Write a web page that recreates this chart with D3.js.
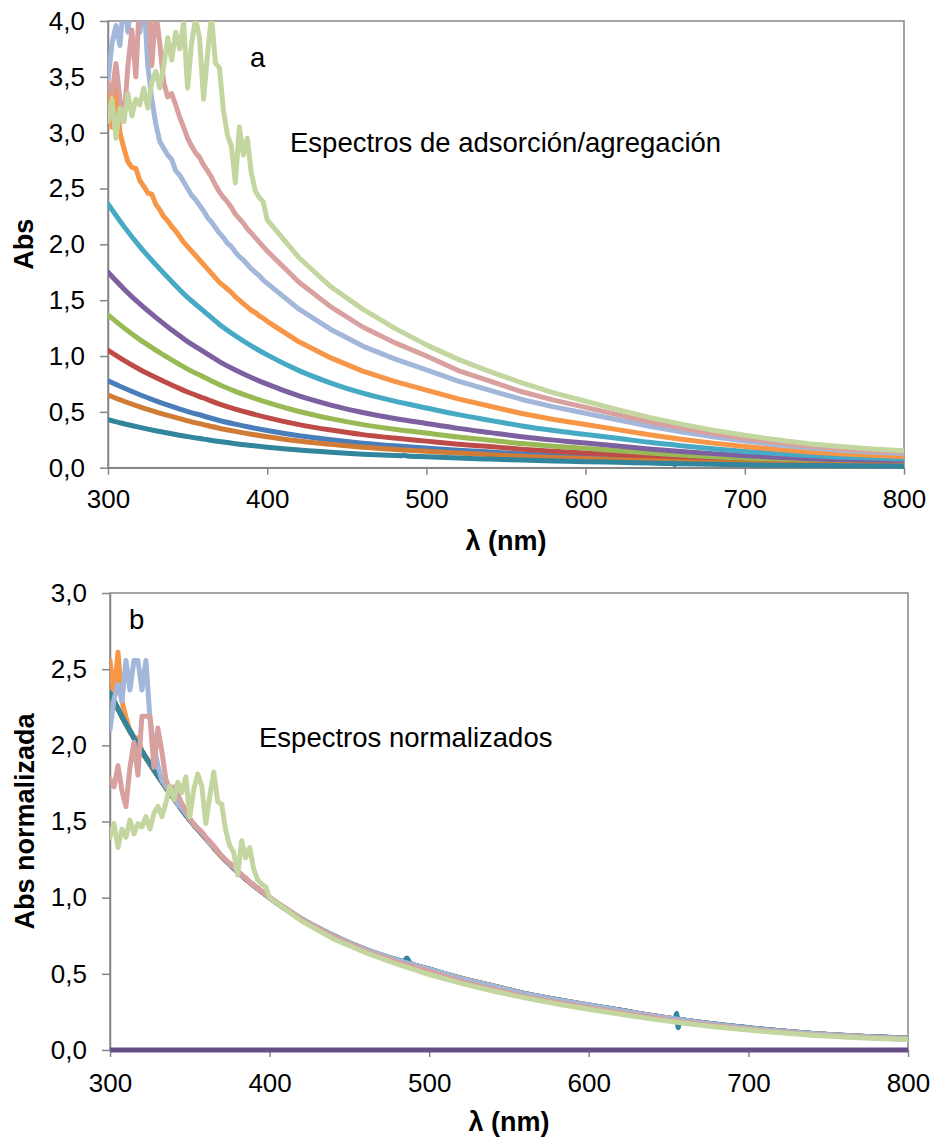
<!DOCTYPE html>
<html>
<head>
<meta charset="utf-8">
<script src="https://cdn.jsdelivr.net/npm/d3@7/dist/d3.min.js"></script>
<style>
  body { margin: 0; background: #fff; }
  svg text { font-family: "Liberation Sans", Arial, sans-serif; fill: #000; }
</style>
</head>
<body>
<svg id="chart" width="931" height="1139"></svg>
<script>
// wavelength grids (nm)
const wlCoarse = [300, 310, 320, 330, 340, 350, 360, 370, 380, 390, 400,
  420, 440, 460, 480, 500, 520, 540, 560, 580, 600, 620, 640, 660, 680, 700, 720, 740, 760, 780, 800]
const wlFine = [300, 302.5, 305, 307.5, 310, 312.5, 315, 317.5, 320, 322.5, 325, 327.5, 330, 332.5, 335, 337.5,
  340, 342.5, 345, 347.5, 350, 352.5, 355, 357.5, 360, 362.5, 365, 367.5, 370, 372.5, 375, 377.5,
  380, 382.5, 385, 387.5, 390, 392.5, 395, 397.5, 400,
  420, 440, 460, 480, 500, 520, 540, 560, 580, 600, 620, 640, 660, 680, 700, 720, 740, 760, 780, 800]
// the weakest spectrum shows the lamp lines at 486 and 656 nm
const wlTeal = [300, 310, 320, 330, 340, 350, 360, 370, 380, 390, 400,
  420, 440, 460, 480, 484, 486, 488, 500, 520, 540, 560, 580, 600, 620, 640,
  654, 655, 656, 657, 660, 680, 700, 720, 740, 760, 780, 800]

// absorbance
const absBlue = [0.779, 0.713, 0.653, 0.599, 0.549, 0.503, 0.463, 0.423, 0.390, 0.360, 0.333,
  0.286, 0.250, 0.220, 0.196, 0.176, 0.157, 0.140, 0.123, 0.110, 0.098, 0.087, 0.075, 0.065, 0.056, 0.048, 0.042, 0.036, 0.032, 0.028, 0.026]
const absRed = [1.051, 0.961, 0.880, 0.808, 0.741, 0.678, 0.624, 0.570, 0.525, 0.485, 0.449,
  0.386, 0.337, 0.296, 0.265, 0.238, 0.211, 0.189, 0.166, 0.148, 0.132, 0.117, 0.101, 0.088, 0.075, 0.065, 0.056, 0.048, 0.043, 0.038, 0.035]
const absGreen = [1.369, 1.252, 1.147, 1.053, 0.965, 0.883, 0.813, 0.743, 0.684, 0.632, 0.585,
  0.503, 0.439, 0.386, 0.345, 0.310, 0.275, 0.246, 0.216, 0.193, 0.173, 0.152, 0.132, 0.114, 0.098, 0.085, 0.073, 0.063, 0.056, 0.050, 0.045]
const absPurple = [1.750, 1.601, 1.466, 1.346, 1.234, 1.129, 1.040, 0.950, 0.875, 0.808, 0.748,
  0.643, 0.561, 0.494, 0.441, 0.396, 0.352, 0.314, 0.277, 0.247, 0.221, 0.194, 0.168, 0.146, 0.126, 0.108, 0.094, 0.081, 0.071, 0.064, 0.058]
const absAqua = [2.363, 2.161, 1.980, 1.818, 1.667, 1.525, 1.404, 1.283, 1.182, 1.091, 1.010,
  0.869, 0.758, 0.667, 0.596, 0.535, 0.475, 0.424, 0.374, 0.333, 0.298, 0.263, 0.227, 0.197, 0.170, 0.146, 0.126, 0.109, 0.096, 0.086, 0.078]
const absBrown = [0.651, 0.595, 0.545, 0.500, 0.459, 0.420, 0.386, 0.353, 0.325, 0.300, 0.278,
  0.239, 0.209, 0.183, 0.164, 0.147, 0.131, 0.117, 0.103, 0.092, 0.082, 0.072, 0.063, 0.054, 0.047, 0.040, 0.035, 0.030, 0.026, 0.024, 0.021]
const absTeal = [0.431, 0.394, 0.361, 0.331, 0.304, 0.278, 0.256, 0.234, 0.215, 0.199, 0.184,
  0.158, 0.138, 0.121, 0.109, 0.107, 0.111, 0.105, 0.098, 0.086, 0.077, 0.068, 0.061, 0.054, 0.048, 0.041,
  0.037, 0.044, 0.027, 0.037, 0.036, 0.031, 0.027, 0.023, 0.020, 0.017, 0.016, 0.014]

// noisy ones, on the fine grid
const absOrange = [3.35, 3.05, 3.42, 3.00, 2.86, 2.74, 2.69, 2.68, 2.57, 2.52, 2.46, 2.45, 2.36, 2.31, 2.25, 2.21,
  2.16, 2.12, 2.07, 2.02, 1.98, 1.94, 1.90, 1.86, 1.82, 1.78, 1.74, 1.70, 1.66, 1.63, 1.60, 1.57,
  1.53, 1.50, 1.47, 1.44, 1.41, 1.39, 1.36, 1.34, 1.31,
  1.127, 0.983, 0.865, 0.773, 0.694, 0.616, 0.550, 0.485, 0.432, 0.386, 0.341, 0.295, 0.255, 0.220, 0.190, 0.164, 0.141, 0.124, 0.111, 0.101]
const absLightBlue = [3.47, 3.80, 3.96, 3.78, 4.22, 3.90, 4.22, 4.22, 3.90, 4.22, 3.60, 3.30, 3.08, 2.92, 2.86, 2.80,
  2.76, 2.66, 2.62, 2.56, 2.50, 2.44, 2.40, 2.35, 2.30, 2.24, 2.20, 2.15, 2.10, 2.06, 2.01, 1.98,
  1.93, 1.89, 1.86, 1.82, 1.78, 1.75, 1.72, 1.68, 1.65,
  1.419, 1.238, 1.089, 0.974, 0.875, 0.776, 0.693, 0.611, 0.545, 0.487, 0.429, 0.371, 0.322, 0.277, 0.239, 0.206, 0.178, 0.157, 0.140, 0.127]
const absPink = [3.45, 3.35, 3.62, 3.30, 3.10, 3.60, 3.92, 3.50, 4.25, 4.25, 4.25, 3.60, 4.10, 3.80, 3.45, 3.32,
  3.35, 3.25, 3.14, 3.05, 2.95, 2.88, 2.82, 2.78, 2.71, 2.66, 2.60, 2.53, 2.47, 2.42, 2.38, 2.33,
  2.27, 2.23, 2.19, 2.14, 2.10, 2.06, 2.02, 1.98, 1.94,
  1.66, 1.44, 1.26, 1.12, 1.00, 0.87, 0.775, 0.68, 0.605, 0.54, 0.475, 0.41, 0.355, 0.305, 0.263, 0.226, 0.195, 0.171, 0.153, 0.138]
const absLightGreen = [3.10, 3.30, 2.95, 3.22, 3.10, 3.35, 3.15, 3.30, 3.25, 3.40, 3.22, 3.45, 3.55, 3.40, 3.60, 3.85,
  3.65, 3.90, 3.75, 3.98, 3.40, 3.80, 4.02, 3.85, 3.30, 3.70, 4.05, 3.62, 3.58, 3.20, 2.98, 2.88,
  2.55, 3.05, 2.80, 2.95, 2.64, 2.48, 2.42, 2.38, 2.22,
  1.88, 1.62, 1.42, 1.25, 1.10, 0.97, 0.86, 0.76, 0.67, 0.595, 0.52, 0.45, 0.39, 0.335, 0.29, 0.25, 0.215, 0.19, 0.168, 0.152]

// blank that normalises to zero in panel b
const wlBlank = [300, 800]
const normBlank = [0, 0]

const xTicks = [300, 400, 500, 600, 700, 800]
const yTicksTop = [0, 0.5, 1, 1.5, 2, 2.5, 3, 3.5, 4]
const yTicksBottom = [0, 0.5, 1, 1.5, 2, 2.5, 3]

const series = [
  { wl: wlCoarse, values: absBlue, color: '#4a7ebb' },
  { wl: wlCoarse, values: absRed, color: '#be4b48' },
  { wl: wlCoarse, values: absGreen, color: '#98b954' },
  { wl: wlCoarse, values: absPurple, color: '#7d60a0' },
  { wl: wlCoarse, values: absAqua, color: '#46aac5' },
  { wl: wlFine, values: absOrange, color: '#f79646' },
  { wl: wlCoarse, values: absBrown, color: '#d07b36' },
  { wl: wlTeal, values: absTeal, color: '#31859c' },
  { wl: wlFine, values: absLightBlue, color: '#a2b7d9' },
  { wl: wlFine, values: absPink, color: '#d8a09e' },
  { wl: wlFine, values: absLightGreen, color: '#c3d69f' }
]

// panel b: every spectrum divided by its value at 400 nm
const seriesNorm = series.map(s => {
  const ref = s.values[s.wl.indexOf(400)]
  return { wl: s.wl, values: s.values.map(v => v / ref), color: s.color }
})
seriesNorm.push({ wl: wlBlank, values: normBlank, color: '#664d86' })

const svg = d3.select('#chart')
const commaFmt = d => d3.format('.1f')(d).replace('.', ',')
const axisGrey = '#868686'

function drawPanel (cfg) {
  const g = svg.append('g')
  const x = d3.scaleLinear().domain([300, 800]).range([cfg.left, cfg.right])
  const y = d3.scaleLinear().domain([0, cfg.yMax]).range([cfg.bottom, cfg.top])

  // plot area border
  g.append('rect')
    .attr('x', cfg.left).attr('y', cfg.top)
    .attr('width', cfg.right - cfg.left).attr('height', cfg.bottom - cfg.top)
    .style('fill', 'none').style('stroke', axisGrey).style('stroke-width', 1.5)

  const xAxis = g.append('g')
    .attr('transform', 'translate(0,' + cfg.bottom + ')')
    .call(d3.axisBottom(x).tickValues(xTicks).tickSize(7).tickSizeOuter(0)
      .tickPadding(cfg.xPad).tickFormat(d3.format('d')))
  const yAxis = g.append('g')
    .attr('transform', 'translate(' + cfg.left + ',0)')
    .call(d3.axisLeft(y).tickValues(cfg.yTicks).tickSize(8).tickSizeOuter(0)
      .tickPadding(15).tickFormat(commaFmt))

  ;[xAxis, yAxis].forEach(a => {
    a.select('.domain').style('stroke', axisGrey).style('stroke-width', 1.5)
    a.selectAll('.tick line').style('stroke', axisGrey).style('stroke-width', 1.5)
    a.selectAll('.tick text').style('font-size', '26px').style('fill', '#000')
      .style('font-family', '"Liberation Sans", Arial, sans-serif')
  })

  const clipId = 'clip-' + cfg.id
  svg.append('clipPath').attr('id', clipId)
    .append('rect')
    .attr('x', cfg.left).attr('y', cfg.top)
    .attr('width', cfg.right - cfg.left).attr('height', cfg.bottom - cfg.top + 3)

  const lines = g.append('g').attr('clip-path', 'url(#' + clipId + ')')
  cfg.series.forEach(s => {
    // noisy spectra keep their jagged look, smooth ones are smoothed
    const curve = s.wl === wlFine ? d3.curveLinear : d3.curveMonotoneX
    const line = d3.line().curve(curve).x(d => x(d[0])).y(d => y(d[1]))
    lines.append('path')
      .datum(s.wl.map((w, i) => [w, s.values[i]]))
      .attr('d', line)
      .style('fill', 'none')
      .style('stroke', s.color)
      .style('stroke-width', 5)
      .style('stroke-linejoin', 'round')
      .style('stroke-linecap', 'round')
  })

  // axis titles
  g.append('text')
    .attr('x', (cfg.left + cfg.right) / 2).attr('y', cfg.xTitleY)
    .attr('text-anchor', 'middle')
    .style('font-size', '27px').style('font-weight', 'bold')
    .text('λ (nm)')
  g.append('text')
    .attr('transform', 'translate(' + cfg.yTitleX + ',' + ((cfg.top + cfg.bottom) / 2) + ')rotate(-90)')
    .attr('text-anchor', 'middle')
    .style('font-size', '27px').style('font-weight', 'bold')
    .text(cfg.yTitle)

  // annotations
  g.append('text')
    .attr('x', cfg.tagX).attr('y', cfg.tagY)
    .style('font-size', '27.5px')
    .text(cfg.tag)
  g.append('text')
    .attr('x', cfg.noteX).attr('y', cfg.noteY)
    .style('font-size', '27.5px')
    .text(cfg.note)
}

drawPanel({
  id: 'a', series: series, yMax: 4, yTicks: yTicksTop,
  left: 108, right: 904, top: 21, bottom: 467.7, xPad: 14.5,
  xTitleY: 549.5, yTitleX: 33, yTitle: 'Abs',
  tag: 'a', tagX: 250, tagY: 66.5,
  note: 'Espectros de adsorción/agregación', noteX: 290, noteY: 151.5
})

drawPanel({
  id: 'b', series: seriesNorm, yMax: 3, yTicks: yTicksBottom,
  left: 110, right: 908, top: 593, bottom: 1050, xPad: 16.5,
  xTitleY: 1131, yTitleX: 34, yTitle: 'Abs normalizada',
  tag: 'b', tagX: 129, tagY: 629,
  note: 'Espectros normalizados', noteX: 259, noteY: 746.5
})
</script>
</body>
</html>
